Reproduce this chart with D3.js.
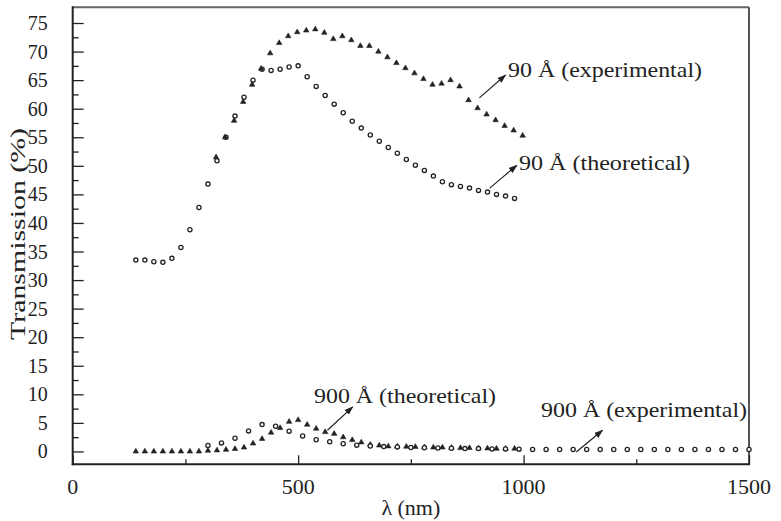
<!DOCTYPE html>
<html>
<head>
<meta charset="utf-8">
<script src="https://cdn.jsdelivr.net/npm/d3@7"></script>
<style>
  html, body { margin: 0; padding: 0; background: #fff; }
  svg { display: block; }
</style>
</head>
<body>
<svg id="chart" width="781" height="521" font-family="'Liberation Serif', 'Times New Roman', Times, serif"></svg>
<script>
// 90 Å film, theoretical (open circles), wavelength in nm
const thinTheoX = [140,160,180,200,220,240,260,280,300,320,340,360,380,400,420,440,460,480,500,520,540,560,580,600,620,640,660,680,700,720,740,760,780,800,820,840,860,880,900,920,940,960,980];
const thinTheoY = [33.5,33.5,33.2,33.1,33.8,35.7,38.8,42.7,46.8,50.9,55.0,58.7,62.0,65.0,66.9,66.7,66.9,67.3,67.5,65.6,63.9,62.3,60.8,59.3,57.8,56.6,55.4,54.3,53.2,52.2,51.1,50.1,49.2,48.2,47.2,46.7,46.4,46.1,45.7,45.4,45.0,44.7,44.3];

// 90 Å film, experimental (filled triangles)
const thinExpX = [318,338,358,378,398,418,438,458,478,498,518,538,558,578,598,618,638,658,678,698,718,738,758,778,798,818,838,858,878,898,918,938,958,978,998];
const thinExpY = [51.5,55.0,57.9,61.2,64.2,67.0,69.7,71.5,72.7,73.4,73.7,73.9,73.3,72.2,72.7,72.0,71.0,71.0,70.0,69.0,68.0,67.1,66.2,65.2,64.2,64.4,65.0,63.9,61.5,60.1,59.0,58.0,57.0,56.2,55.3];

// 900 Å film, filled triangles
const thickTriX = [140,160,180,200,220,240,260,280,300,320,340,360,380,400,420,440,460,480,500,520,540,560,580,600,620,640,660,680,700,720,740,760,780,800,820,840,860,880,900,920,940,960,980];
const thickTriY = [0,0,0,0,0,0,0,0,0.15,0.2,0.3,0.45,0.7,1.4,2.2,3.3,4.1,5.2,5.5,4.7,4.0,3.4,3.1,2.5,2.0,1.6,1.2,1.05,0.9,0.9,0.85,0.8,0.75,0.7,0.7,0.65,0.6,0.6,0.55,0.55,0.5,0.5,0.5];

// 900 Å film, open circles
const thickCircX = [300,330,360,390,420,450,480,510,540,570,600,630,660,690,720,750,780,810,840,870,900,930,960,990,1020,1050,1080,1110,1140,1170,1200,1230,1260,1290,1320,1350,1380,1410,1440,1470,1500];
const thickCircY = [1.05,1.5,2.3,3.6,4.7,4.4,3.55,2.7,2.05,1.7,1.35,1.1,0.95,0.85,0.8,0.7,0.65,0.6,0.55,0.5,0.5,0.45,0.45,0.4,0.35,0.35,0.35,0.35,0.35,0.35,0.35,0.35,0.35,0.35,0.35,0.35,0.35,0.35,0.35,0.35,0.35];

// Axis ticks
const xTickValues = [0, 500, 1000, 1500];
const xMinorTicks = [250, 750, 1250];
const yTickValues = [0,5,10,15,20,25,30,35,40,45,50,55,60,65,70,75];
const yMinorTicks = [2.5,7.5,12.5,17.5,22.5,27.5,32.5,37.5,42.5,47.5,52.5,57.5,62.5,67.5,72.5];

// Callout labels: text, arrow tail/head in data units
const noteText = ["90 Å (experimental)", "90 Å (theoretical)", "900 Å (theoretical)", "900 Å (experimental)"];
const noteTail = [[902, 61.9], [925, 46.1], [565, 3.7], [1117, -0.1]];
const noteHead = [[960, 65.9], [985, 50.1], [621, 7.8], [1175, 3.7]];

const W = 781, H = 521;
const margin = { left: 72.7, top: 7.3, right: 32, bottom: 56.7 };

const svg = d3.select("#chart");
const x = d3.scaleLinear().domain([0, 1500]).range([margin.left, W - margin.right]);
const y = d3.scaleLinear().domain([-2.25, 77.75]).range([H - margin.bottom, margin.top]);

const ink = "#222";

// Frame: top and right edges
svg.append("line").attr("x1", x(0)).attr("x2", x(1500)).attr("y1", y(77.75)).attr("y2", y(77.75))
  .attr("stroke", "#666").attr("stroke-width", 2);
svg.append("line").attr("x1", x(1500)).attr("x2", x(1500)).attr("y1", y(77.75)).attr("y2", y(-2.25))
  .attr("stroke", "#555").attr("stroke-width", 2);

// Bottom axis, ticks pointing into the plot
const xAxis = svg.append("g").attr("transform", `translate(0,${y(-2.25)})`)
  .call(d3.axisTop(x).tickValues(xTickValues).tickSize(9).tickFormat(""));
xAxis.append("g").call(d3.axisTop(x).tickValues(xMinorTicks).tickSize(5).tickFormat(""));
xAxis.selectAll(".domain").remove();
xAxis.selectAll("line").attr("stroke", ink).attr("stroke-width", 1.3);
svg.append("line").attr("x1", x(0) - 1).attr("x2", x(1500) + 1).attr("y1", y(-2.25)).attr("y2", y(-2.25))
  .attr("stroke", ink).attr("stroke-width", 2);

svg.append("g").selectAll("text").data(xTickValues).join("text")
  .attr("x", d => x(d)).attr("y", y(-2.25) + 30)
  .attr("text-anchor", "middle").attr("font-size", 22).attr("fill", ink).text(d => d);

// Left axis, ticks pointing into the plot
const yAxis = svg.append("g").attr("transform", `translate(${x(0)},0)`)
  .call(d3.axisRight(y).tickValues(yTickValues).tickSize(11).tickFormat(""));
yAxis.append("g").call(d3.axisRight(y).tickValues(yMinorTicks).tickSize(6).tickFormat(""));
yAxis.selectAll(".domain").remove();
yAxis.selectAll("line").attr("stroke", ink).attr("stroke-width", 1.3);
svg.append("line").attr("x1", x(0)).attr("x2", x(0)).attr("y1", y(77.75) - 1).attr("y2", y(-2.25) + 1)
  .attr("stroke", ink).attr("stroke-width", 2);

svg.append("g").selectAll("text").data(yTickValues).join("text")
  .attr("x", x(0) - 25).attr("y", d => y(d) + 7)
  .attr("text-anchor", "end").attr("font-size", 20).attr("fill", ink).text(d => d);

// Axis titles
svg.append("text")
  .attr("transform", `translate(25,234) rotate(-90)`)
  .attr("text-anchor", "middle").attr("font-size", 20).attr("fill", ink)
  .attr("textLength", 212).attr("lengthAdjust", "spacingAndGlyphs")
  .text("Transmission (%)");
svg.append("text")
  .attr("x", (x(0) + x(1500)) / 2).attr("y", H - 6)
  .attr("text-anchor", "middle").attr("font-size", 22).attr("fill", ink).text("λ (nm)");

// Markers
const tri = d3.symbol().type(d3.symbolTriangle).size(13);
function circles(xs, ys) {
  svg.append("g").selectAll("circle").data(xs.map((v, i) => [v, ys[i]])).join("circle")
    .attr("cx", d => x(d[0])).attr("cy", d => y(d[1])).attr("r", 2.1)
    .attr("fill", "#fff").attr("stroke", ink).attr("stroke-width", 1.3);
}
function triangles(xs, ys) {
  svg.append("g").selectAll("path").data(xs.map((v, i) => [v, ys[i]])).join("path")
    .attr("transform", d => `translate(${x(d[0])},${y(d[1])})`)
    .attr("d", tri).attr("fill", ink).attr("stroke", ink).attr("stroke-width", 0.6);
}
circles(thinTheoX, thinTheoY);
triangles(thinExpX, thinExpY);
triangles(thickTriX, thickTriY);
circles(thickCircX, thickCircY);

// Callouts with arrows
const defs = svg.append("defs");
defs.append("marker").attr("id", "arrowhead").attr("viewBox", "0 0 10 10")
  .attr("refX", 9).attr("refY", 5).attr("markerWidth", 9).attr("markerHeight", 9)
  .attr("markerUnits", "userSpaceOnUse").attr("orient", "auto")
  .append("path").attr("d", "M0,1.5 L10,5 L0,8.5 Z").attr("fill", ink);

noteText.forEach((t, i) => {
  svg.append("line")
    .attr("x1", x(noteTail[i][0])).attr("y1", y(noteTail[i][1]))
    .attr("x2", x(noteHead[i][0])).attr("y2", y(noteHead[i][1]))
    .attr("stroke", ink).attr("stroke-width", 1.2).attr("marker-end", "url(#arrowhead)");
});

const notePos = [[508, 77], [519, 170], [314, 403], [541, 417]];
const noteLen = [194, 171, 182, 206];
noteText.forEach((t, i) => {
  svg.append("text").attr("x", notePos[i][0]).attr("y", notePos[i][1])
    .attr("font-size", 22).attr("fill", ink)
    .attr("textLength", noteLen[i]).attr("lengthAdjust", "spacingAndGlyphs")
    .text(t);
});
</script>
</body>
</html>
